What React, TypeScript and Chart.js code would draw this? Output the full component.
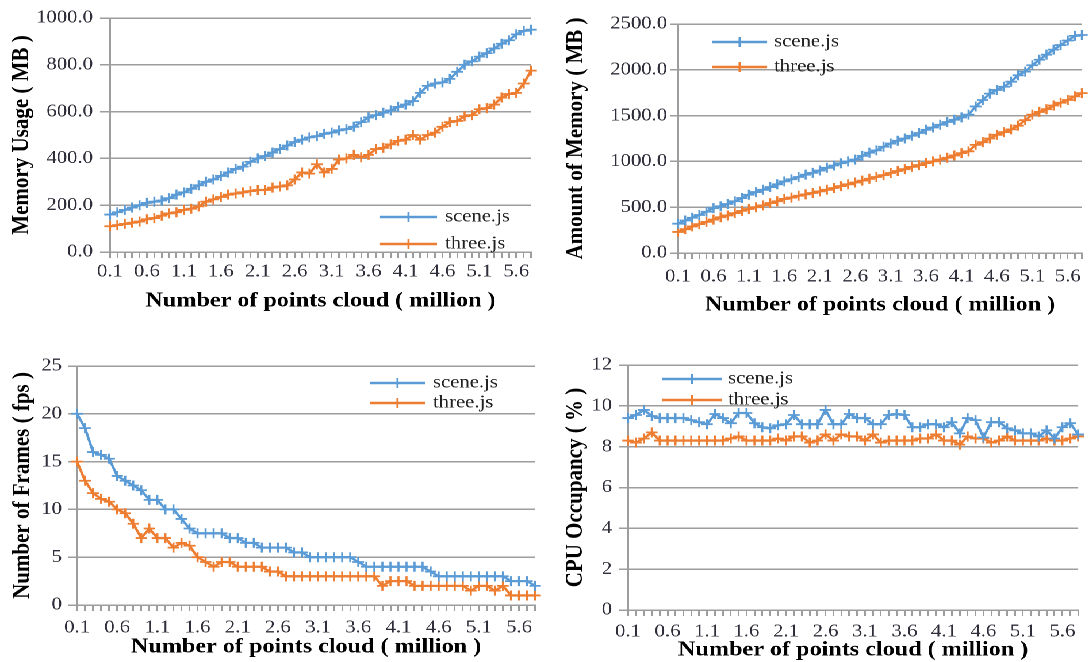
import React, { useEffect, useRef } from 'react';
import { Chart, registerables } from 'chart.js';

Chart.register(...registerables);

// ---------------- data ----------------
const X_LABELS = [
  '0.1', '0.2', '0.3', '0.4', '0.5', '0.6', '0.7', '0.8', '0.9', '1.0',
  '1.1', '1.2', '1.3', '1.4', '1.5', '1.6', '1.7', '1.8', '1.9', '2.0',
  '2.1', '2.2', '2.3', '2.4', '2.5', '2.6', '2.7', '2.8', '2.9', '3.0',
  '3.1', '3.2', '3.3', '3.4', '3.5', '3.6', '3.7', '3.8', '3.9', '4.0',
  '4.1', '4.2', '4.3', '4.4', '4.5', '4.6', '4.7', '4.8', '4.9', '5.0',
  '5.1', '5.2', '5.3', '5.4', '5.5', '5.6', '5.7', '5.8',
];
const SHOWN_X_LABELS = ['0.1', '0.6', '1.1', '1.6', '2.1', '2.6', '3.1', '3.6', '4.1', '4.6', '5.1', '5.6'];
const SERIES_NAMES = ['scene.js', 'three.js'];

const MEM_SCENE = [
  160, 170, 180, 190, 200, 210, 215, 220, 230, 245,
  255, 270, 285, 300, 310, 325, 340, 355, 365, 385,
  400, 410, 425, 440, 455, 470, 480, 490, 495, 505,
  510, 520, 525, 535, 555, 575, 585, 595, 605, 620,
  630, 645, 680, 710, 720, 725, 740, 770, 800, 815,
  835, 850, 870, 890, 905, 930, 945, 950,
];
const MEM_THREE = [
  110, 115, 120, 125, 130, 140, 145, 155, 165, 170,
  180, 185, 195, 215, 225, 235, 245, 250, 255, 260,
  265, 265, 275, 280, 285, 310, 340, 335, 375, 340,
  355, 395, 400, 415, 405, 415, 440, 445, 460, 475,
  480, 500, 480, 500, 510, 535, 555, 560, 580, 585,
  610, 615, 630, 660, 675, 680, 720, 775,
];
const AMOUNT_SCENE = [
  320, 355, 385, 415, 450, 490, 510, 535, 565, 600,
  636, 665, 690, 720, 750, 782, 805, 830, 855, 875,
  900, 930, 955, 980, 1000, 1020, 1060, 1095, 1120, 1160,
  1195, 1225, 1250, 1280, 1310, 1345, 1370, 1400, 1430, 1455,
  1480, 1510, 1600, 1670, 1740, 1780, 1815, 1870, 1940, 1980,
  2050, 2110, 2165, 2220, 2270, 2320, 2370, 2380,
];
const AMOUNT_THREE = [
  230, 260, 290, 315, 340, 365, 390, 410, 435, 460,
  480, 500, 520, 545, 565, 590, 605, 625, 640, 655,
  673, 690, 710, 730, 750, 770, 790, 810, 830, 850,
  873, 895, 915, 940, 960, 982, 1000, 1020, 1040, 1065,
  1090, 1110, 1180, 1210, 1250, 1290, 1320, 1350, 1390, 1450,
  1510, 1540, 1570, 1610, 1640, 1670, 1710, 1745,
];
const FPS_SCENE = [
  20, 18.5, 16, 15.7, 15.3, 13.5, 13, 12.5, 12, 11,
  11, 10, 10, 9, 8, 7.5, 7.5, 7.5, 7.5, 7,
  7, 6.5, 6.5, 6, 6, 6, 6, 5.5, 5.5, 5,
  5, 5, 5, 5, 5, 4.5, 4, 4, 4, 4,
  4, 4, 4, 4, 3.5, 3, 3, 3, 3, 3,
  3, 3, 3, 3, 2.5, 2.5, 2.5, 2,
];
const FPS_THREE = [
  15, 13, 11.7, 11.1, 10.8, 10, 9.6, 8.5, 7, 8,
  7, 7, 6, 6.5, 6.2, 5, 4.5, 4, 4.5, 4.5,
  4, 4, 4, 4, 3.5, 3.5, 3, 3, 3, 3,
  3, 3, 3, 3, 3, 3, 3, 3, 2, 2.5,
  2.5, 2.5, 2, 2, 2, 2, 2, 2, 2, 1.5,
  2, 2, 1.5, 2, 1, 1, 1, 1,
];
const CPU_SCENE = [
  9.4, 9.55, 9.8, 9.5, 9.4, 9.4, 9.4, 9.4, 9.3, 9.2,
  9.1, 9.6, 9.4, 9.15, 9.65, 9.65, 9.15, 8.95, 8.9, 9.05,
  9.1, 9.55, 9.1, 9.1, 9.1, 9.8, 9.1, 9.1, 9.6, 9.4,
  9.4, 9.1, 9.1, 9.55, 9.6, 9.55, 8.95, 8.95, 9.1, 9.1,
  8.95, 9.2, 8.65, 9.4, 9.3, 8.45, 9.2, 9.2, 8.9, 8.8,
  8.65, 8.65, 8.5, 8.8, 8.4, 8.95, 9.15, 8.6,
];
const CPU_THREE = [
  8.3, 8.2, 8.4, 8.7, 8.3, 8.3, 8.3, 8.3, 8.3, 8.3,
  8.3, 8.3, 8.3, 8.4, 8.5, 8.3, 8.3, 8.3, 8.3, 8.4,
  8.3, 8.5, 8.5, 8.2, 8.3, 8.6, 8.3, 8.6, 8.5, 8.5,
  8.3, 8.6, 8.2, 8.3, 8.3, 8.3, 8.3, 8.4, 8.4, 8.6,
  8.3, 8.3, 8.1, 8.5, 8.4, 8.4, 8.2, 8.3, 8.5, 8.3,
  8.3, 8.3, 8.3, 8.4, 8.3, 8.3, 8.4, 8.5,
];

// ---------------- style ----------------
const S = 1.15; // horizontal stretch of the reference figure
const FONT = "'Liberation Serif', 'Times New Roman', serif";
const BLUE = '#5B9BD5';
const ORANGE = '#ED7D31';
const GRID = '#9d9d9d';
const TICK_COLOR = '#2e2e3a';
const TICK_SIZE = 18;
const TITLE_SIZE = 21;
const X_TITLE = 'Number of points cloud ( million )';

type Spec = {
  x: number; y: number; w: number; h: number;
  areaLeft: number; areaRight: number; areaTop: number; areaBottom: number;
  yTick: number; yPad: number; yTitleX: number;
  xLabelY: number; xTitleY: number;
  legend: { x1: number; x2: number; tx: number; y1: number; y2: number };
  yTitle: string; yMin: number; yMax: number; yStep: number; yDec: number;
  scene: number[]; three: number[];
};

const PANELS: Spec[] = [
  {
    x: 0, y: 0, w: 545, h: 320,
    areaLeft: 110, areaRight: 531, areaTop: 18, areaBottom: 252,
    yTick: 10, yPad: 7, yTitleX: 22, xLabelY: 272, xTitleY: 301,
    legend: { x1: 380, x2: 437, tx: 445, y1: 217, y2: 244 },
    yTitle: 'Memory Usage ( MB )', yMin: 0, yMax: 1000, yStep: 200, yDec: 1,
    scene: MEM_SCENE, three: MEM_THREE,
  },
  {
    x: 545, y: 0, w: 545, h: 320,
    areaLeft: 678, areaRight: 1085, areaTop: 24, areaBottom: 253,
    yTick: 8, yPad: 3, yTitleX: 576, xLabelY: 277, xTitleY: 305,
    legend: { x1: 712, x2: 767, tx: 774, y1: 42, y2: 67 },
    yTitle: 'Amount of Memory ( MB )', yMin: 0, yMax: 2500, yStep: 500, yDec: 1,
    scene: AMOUNT_SCENE, three: AMOUNT_THREE,
  },
  {
    x: 0, y: 330, w: 545, h: 332,
    areaLeft: 77, areaRight: 535, areaTop: 366, areaBottom: 605,
    yTick: 9, yPad: 6, yTitleX: 22.6, xLabelY: 628, xTitleY: 647,
    legend: { x1: 370, x2: 425, tx: 433, y1: 383, y2: 403 },
    yTitle: 'Number of Frames ( fps )', yMin: 0, yMax: 25, yStep: 5, yDec: 0,
    scene: FPS_SCENE, three: FPS_THREE,
  },
  {
    x: 545, y: 330, w: 545, h: 332,
    areaLeft: 628, areaRight: 1078, areaTop: 365, areaBottom: 610,
    yTick: 9, yPad: 7, yTitleX: 575.5, xLabelY: 632, xTitleY: 650,
    legend: { x1: 662, x2: 722, tx: 728, y1: 379, y2: 400 },
    yTitle: 'CPU Occupancy ( % )', yMin: 0, yMax: 12, yStep: 2, yDec: 0,
    scene: CPU_SCENE, three: CPU_THREE,
  },
];

const legendPlugin = {
  id: 'boxLegend',
  afterDatasetsDraw(chart: any, _args: any, opts: any) {
    if (!opts || opts.x1 === undefined) return;
    const ctx = chart.ctx as CanvasRenderingContext2D;
    const ys = [opts.y1, opts.y2];
    ctx.save();
    chart.data.datasets.forEach((ds: any, i: number) => {
      const y = ys[i];
      ctx.strokeStyle = ds.borderColor;
      ctx.lineWidth = 2.4;
      ctx.beginPath();
      ctx.moveTo(opts.x1, y);
      ctx.lineTo(opts.x2, y);
      ctx.stroke();
      const mx = (opts.x1 + opts.x2) / 2;
      const r = 5;
      ctx.lineWidth = 1.8;
      ctx.beginPath();
      ctx.moveTo(mx - r, y);
      ctx.lineTo(mx + r, y);
      ctx.moveTo(mx, y - r);
      ctx.lineTo(mx, y + r);
      ctx.stroke();
      ctx.fillStyle = '#222222';
      ctx.font = `18px ${FONT}`;
      ctx.textBaseline = 'middle';
      ctx.textAlign = 'left';
      ctx.fillText(ds.label, opts.tx, y);
    });
    ctx.restore();
  },
};

function buildConfig(p: Spec): any {
  const titleHalf = (TITLE_SIZE * 1.2) / 2;
  const tickHalf = (TICK_SIZE * 1.2) / 2;
  const xTickLen = 6;
  const yW = (p.areaLeft - p.x) / S;
  const xH = p.y + p.h - p.areaBottom;
  const mkDs = (label: string, data: number[], color: string) => ({
    label,
    data,
    borderColor: color,
    backgroundColor: color,
    borderWidth: 2.3,
    pointStyle: 'cross',
    pointRadius: 5,
    pointHoverRadius: 5,
    pointBorderWidth: 1.8,
    tension: 0,
    fill: false,
  });
  return {
    type: 'line',
    data: {
      labels: X_LABELS,
      datasets: [mkDs(SERIES_NAMES[0], p.scene, BLUE), mkDs(SERIES_NAMES[1], p.three, ORANGE)],
    },
    plugins: [legendPlugin],
    options: {
      animation: false,
      responsive: false,
      devicePixelRatio: 2,
      events: [],
      layout: {
        padding: {
          left: 0,
          right: (p.x + p.w - p.areaRight) / S,
          top: p.areaTop - p.y,
          bottom: 0,
        },
      },
      plugins: {
        legend: { display: false },
        tooltip: { enabled: false },
        boxLegend: {
          x1: (p.legend.x1 - p.x) / S,
          x2: (p.legend.x2 - p.x) / S,
          tx: (p.legend.tx - p.x) / S,
          y1: p.legend.y1 - p.y,
          y2: p.legend.y2 - p.y,
        },
      },
      scales: {
        x: {
          type: 'category',
          offset: false,
          grid: {
            drawOnChartArea: false,
            drawTicks: true,
            tickLength: xTickLen,
            color: GRID,
            lineWidth: 1.5,
          },
          border: { display: true, color: GRID, width: 1.5 },
          ticks: {
            autoSkip: false,
            maxRotation: 0,
            minRotation: 0,
            padding: p.xLabelY - p.areaBottom - xTickLen - tickHalf,
            color: TICK_COLOR,
            font: { family: FONT, size: TICK_SIZE },
            callback: (_v: any, i: number) =>
              SHOWN_X_LABELS.includes(X_LABELS[i]) ? X_LABELS[i] : '',
          },
          title: {
            display: true,
            text: X_TITLE,
            color: '#000000',
            font: { family: FONT, size: TITLE_SIZE, weight: 'bold' },
            padding: { top: 0, bottom: p.y + p.h - p.xTitleY - titleHalf },
          },
          afterFit: (sc: any) => {
            sc.height = xH;
          },
        },
        y: {
          min: p.yMin,
          max: p.yMax,
          grid: {
            color: GRID,
            lineWidth: 1.5,
            drawTicks: true,
            tickLength: p.yTick / S,
          },
          border: { display: true, color: GRID, width: 1.5 },
          ticks: {
            stepSize: p.yStep,
            padding: p.yPad / S,
            color: TICK_COLOR,
            font: { family: FONT, size: TICK_SIZE },
            callback: (v: any) => Number(v).toFixed(p.yDec),
          },
          title: {
            display: true,
            text: p.yTitle,
            color: '#000000',
            font: { family: FONT, size: TITLE_SIZE, weight: 'bold' },
            padding: { top: (p.yTitleX - p.x) / S - titleHalf, bottom: 0 },
          },
          afterFit: (sc: any) => {
            sc.width = yW;
          },
        },
      },
    },
  };
}

function Panel({ spec }: { spec: Spec }) {
  const ref = useRef<HTMLCanvasElement>(null);
  useEffect(() => {
    if (!ref.current) return;
    const chart = new Chart(ref.current, buildConfig(spec));
    return () => chart.destroy();
  }, [spec]);
  const cw = Math.round(spec.w / S);
  return (
    <canvas
      ref={ref}
      width={cw}
      height={spec.h}
      style={{ position: 'absolute', left: spec.x / S, top: spec.y, width: cw, height: spec.h }}
    />
  );
}

export default function App() {
  return (
    <div
      style={{
        position: 'fixed',
        left: 0,
        top: 0,
        width: 1090,
        height: 662,
        background: '#ffffff',
        overflow: 'hidden',
      }}
    >
      <div
        style={{
          position: 'absolute',
          left: 0,
          top: 0,
          width: 1090 / S,
          height: 662,
          transform: `scaleX(${S})`,
          transformOrigin: '0 0',
        }}
      >
        {PANELS.map((p, i) => (
          <Panel key={i} spec={p} />
        ))}
      </div>
    </div>
  );
}
